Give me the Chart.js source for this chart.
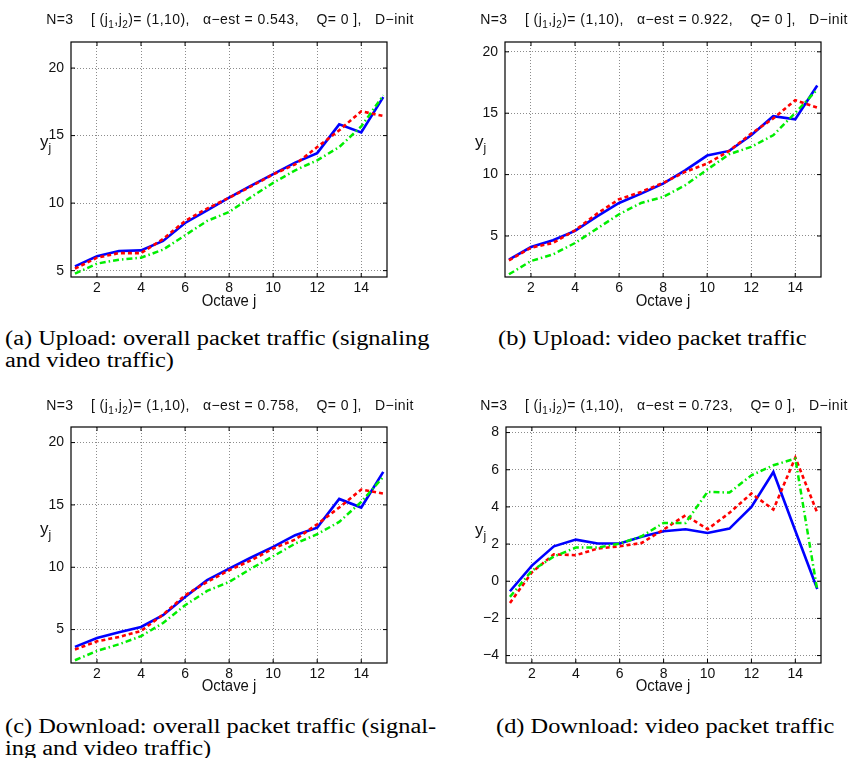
<!DOCTYPE html>
<html><head><meta charset="utf-8">
<script src="https://cdn.jsdelivr.net/npm/chart.js@4.4.1/dist/chart.umd.min.js"></script>
<style>
html,body{margin:0;padding:0;background:#fff;}
body{width:853px;height:758px;position:relative;overflow:hidden;font-family:"Liberation Sans",Arial,sans-serif;color:#111;}
canvas{position:absolute;}
.ttl{position:absolute;font-size:14px;letter-spacing:0.45px;white-space:pre;transform:translateX(-50%);line-height:16px;}
.ttl sub{font-size:10px;vertical-align:-4px;line-height:0;}
.ylab{position:absolute;font-size:17px;line-height:18px;}
.ylab sub{font-size:12px;vertical-align:-5px;line-height:0;}
.xlab{position:absolute;font-size:16px;line-height:18px;transform:translateX(-50%) scaleX(0.93);white-space:pre;}
.cap{position:absolute;font-family:"Liberation Serif","DejaVu Serif",serif;font-size:20px;line-height:22px;white-space:pre;transform-origin:0 0;transform:scaleX(1.22);color:#000;}
</style></head>
<body>
<canvas id="ca" width="400" height="300" style="left:0px;top:0px"></canvas>
<canvas id="cb" width="400" height="300" style="left:434px;top:0px"></canvas>
<canvas id="cc" width="400" height="300" style="left:0px;top:385px"></canvas>
<canvas id="cd" width="400" height="300" style="left:435px;top:385px"></canvas>

<div class="ttl" style="left:230px;top:11px">N=3    [ (j<sub>1</sub>,j<sub>2</sub>)= (1,10),   α−est = 0.543,    Q= 0 ],   D−init</div>
<div class="ttl" style="left:664px;top:11px">N=3    [ (j<sub>1</sub>,j<sub>2</sub>)= (1,10),   α−est = 0.922,    Q= 0 ],   D−init</div>
<div class="ttl" style="left:230px;top:397px">N=3    [ (j<sub>1</sub>,j<sub>2</sub>)= (1,10),   α−est = 0.758,    Q= 0 ],   D−init</div>
<div class="ttl" style="left:664px;top:397px">N=3    [ (j<sub>1</sub>,j<sub>2</sub>)= (1,10),   α−est = 0.723,    Q= 0 ],   D−init</div>

<div class="ylab" style="left:40px;top:133px">y<sub>j</sub></div>
<div class="ylab" style="left:475px;top:133px">y<sub>j</sub></div>
<div class="ylab" style="left:40px;top:520px">y<sub>j</sub></div>
<div class="ylab" style="left:475px;top:521px">y<sub>j</sub></div>

<div class="xlab" style="left:229px;top:292px">Octave j</div>
<div class="xlab" style="left:663px;top:292px">Octave j</div>
<div class="xlab" style="left:229px;top:677px">Octave j</div>
<div class="xlab" style="left:663px;top:677px">Octave j</div>

<div class="cap" style="left:5px;top:327px">(a) Upload: overall packet traffic (signaling
and video traffic)</div>
<div class="cap" style="left:498px;top:327px">(b) Upload: video packet traffic</div>
<div class="cap" style="left:5px;top:715px">(c) Download: overall packet traffic (signal-
ing and video traffic)</div>
<div class="cap" style="left:496px;top:715px">(d) Download: video packet traffic</div>

<script>
// ---------- data ----------
const octaves = [1,2,3,4,5,6,7,8,9,10,11,12,13,14,15];
const xTicks = [2,4,6,8,10,12,14];
const xTickLabels = ['2','4','6','8','10','12','14'];
const yTicksOverall = [5,10,15,20];
const yTickLabelsOverall = ['5','10','15','20'];
const yTicksVideoDn = [-4,-2,0,2,4,6,8];
const yTickLabelsVideoDn = ['\u22124','\u22122','0','2','4','6','8'];

// (a) Upload: overall packet traffic
const upAllBlue  = [5.32,6.06,6.46,6.50,7.20,8.53,9.47,10.40,11.30,12.15,13.00,13.70,15.83,15.24,17.85];
const upAllRed   = [5.15,5.96,6.30,6.30,7.34,8.68,9.60,10.40,11.24,12.13,12.87,14.15,15.39,16.80,16.45];
const upAllGreen = [4.78,5.52,5.81,5.96,6.55,7.62,8.68,9.34,10.45,11.50,12.43,13.17,14.15,15.68,17.98];
// (b) Upload: video packet traffic
const upVidBlue  = [3.07,4.10,4.65,5.41,6.60,7.69,8.45,9.27,10.35,11.55,11.93,13.20,14.76,14.51,17.26];
const upVidRed   = [3.02,4.05,4.43,5.46,6.82,7.99,8.59,9.32,10.22,10.90,11.93,13.34,14.57,16.06,15.46];
const upVidGreen = [1.88,2.96,3.50,4.43,5.60,6.77,7.69,8.18,9.13,10.41,11.66,12.26,13.20,15.03,16.93];
// (c) Download: overall packet traffic
const dnAllBlue  = [3.61,4.33,4.79,5.21,6.15,7.62,8.96,9.89,10.78,11.63,12.57,13.18,15.48,14.79,17.65];
const dnAllRed   = [3.40,4.06,4.41,4.89,6.20,7.75,8.82,9.76,10.56,11.50,12.22,13.45,14.79,16.23,15.91];
const dnAllGreen = [2.54,3.29,3.82,4.47,5.53,6.95,8.10,8.82,9.89,10.88,11.90,12.65,13.64,15.24,17.25];
// (d) Download: video packet traffic
const dnVidBlue  = [-0.54,0.84,1.88,2.24,2.03,2.03,2.39,2.69,2.80,2.60,2.83,4.00,5.88,2.72,-0.42];
const dnVidRed   = [-1.17,0.48,1.45,1.40,1.76,1.88,2.06,2.78,3.55,2.80,3.68,4.72,3.86,6.65,3.68];
const dnVidGreen = [-0.84,0.57,1.33,1.81,1.81,2.03,2.42,3.14,3.14,4.81,4.77,5.70,6.24,6.60,-0.48];

// ---------- drawing ----------
const FONT = '"Liberation Sans", Arial, sans-serif';

const boxPlugin = {
  id: 'matlabBox',
  afterDraw(chart) {
    const {ctx, chartArea: a, scales} = chart;
    ctx.save();
    ctx.strokeStyle = '#000';
    ctx.lineWidth = 1.2;
    ctx.setLineDash([]);
    ctx.strokeRect(a.left, a.top, a.right - a.left, a.bottom - a.top);
    const tl = 4;
    ctx.lineWidth = 1;
    ctx.beginPath();
    scales.x.ticks.forEach(t => {
      const px = scales.x.getPixelForValue(t.value);
      ctx.moveTo(px, a.bottom); ctx.lineTo(px, a.bottom - tl);
      ctx.moveTo(px, a.top); ctx.lineTo(px, a.top + tl);
    });
    scales.y.ticks.forEach(t => {
      const py = scales.y.getPixelForValue(t.value);
      ctx.moveTo(a.left, py); ctx.lineTo(a.left + tl, py);
      ctx.moveTo(a.right, py); ctx.lineTo(a.right - tl, py);
    });
    ctx.stroke();
    ctx.restore();
  }
};

function toPts(ys) { return octaves.map((x, i) => ({x: x, y: ys[i]})); }

function makePanel(id, blue, red, green, yMin, yMax, yTicks, yLabels, pad) {
  new Chart(document.getElementById(id), {
    type: 'line',
    data: {
      datasets: [
        {data: toPts(green), borderColor: '#00ee00', borderWidth: 2.5, borderDash: [6,3,1.5,3], pointRadius: 0, tension: 0, borderCapStyle: 'butt'},
        {data: toPts(red), borderColor: '#ff0000', borderWidth: 2.6, borderDash: [4,3], pointRadius: 0, tension: 0, borderCapStyle: 'butt'},
        {data: toPts(blue), borderColor: '#0000ff', borderWidth: 2.6, pointRadius: 0, tension: 0}
      ]
    },
    options: {
      responsive: false,
      animation: false,
      devicePixelRatio: 1,
      layout: {padding: {top: pad.top, right: pad.right, left: 0, bottom: 0}},
      plugins: {legend: {display: false}, tooltip: {enabled: false}, title: {display: false}},
      scales: {
        x: {
          type: 'linear', min: 0.82, max: 15.17,
          afterBuildTicks: s => { s.ticks = xTicks.map(v => ({value: v})); },
          afterFit: s => { s.height = pad.xh; },
          ticks: {callback: (v, i) => xTickLabels[i], font: {family: FONT, size: 14}, color: '#111', padding: 3, maxRotation: 0, autoSkip: false},
          grid: {color: '#8c8c8c', lineWidth: 1, drawTicks: false},
          border: {display: false, dash: [1,2]}
        },
        y: {
          type: 'linear', min: yMin, max: yMax,
          afterBuildTicks: s => { s.ticks = yTicks.map(v => ({value: v})); },
          afterFit: s => { s.width = pad.yw; },
          ticks: {callback: (v, i) => yLabels[i], font: {family: FONT, size: 14}, color: '#111', padding: 7, autoSkip: false},
          grid: {color: '#8c8c8c', lineWidth: 1, drawTicks: false},
          border: {display: false, dash: [1,2]}
        }
      }
    },
    plugins: [boxPlugin]
  });
}

makePanel('ca', upAllBlue, upAllRed, upAllGreen, 4.53, 21.93, yTicksOverall, yTickLabelsOverall, {top: 42, right: 13, yw: 71, xh: 23});
makePanel('cb', upVidBlue, upVidRed, upVidGreen, 1.66, 20.8, yTicksOverall, yTickLabelsOverall, {top: 42, right: 13, yw: 71, xh: 23});
makePanel('cc', dnAllBlue, dnAllRed, dnAllGreen, 2.32, 21.25, yTicksOverall, yTickLabelsOverall, {top: 42, right: 13, yw: 71, xh: 22});
makePanel('cd', dnVidBlue, dnVidRed, dnVidGreen, -4.4, 8.3, yTicksVideoDn, yTickLabelsVideoDn, {top: 42, right: 14, yw: 71, xh: 22});
</script>
</body></html>
